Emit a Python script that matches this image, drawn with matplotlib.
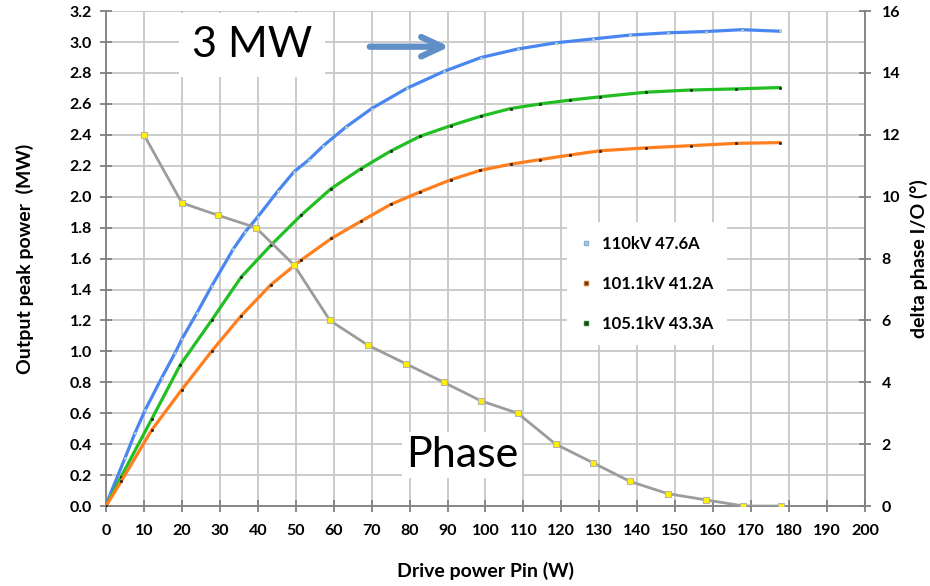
import matplotlib
matplotlib.use("Agg")
import matplotlib.pyplot as plt
from matplotlib.lines import Line2D

plt.rcParams['font.family'] = ['Lato', 'DejaVu Sans']

# 110kV 47.6A
blue_x = [0, 1, 5, 7.6, 10.3, 14.7, 18.2, 20, 24, 27.8, 33.5, 36.6, 40, 45.4, 49.5, 53.5, 57.3, 63.2,
          70, 79.2, 89, 98.8, 108.5, 118.5, 128.3, 138, 148.2, 158, 167.5, 177.6]
blue_y = [0, 0.07, 0.31, 0.47, 0.62, 0.83, 0.99, 1.08, 1.25, 1.42, 1.66, 1.77, 1.87, 2.04, 2.16, 2.24, 2.33, 2.45,
          2.57, 2.70, 2.81, 2.90, 2.955, 2.995, 3.02, 3.045, 3.06, 3.068, 3.08, 3.07]

# 105.1kV 43.3A
green_x = [0, 4, 12, 19.5, 27.8, 35.6, 43.6, 51.4, 59.2, 67.1, 75, 82.7, 90.9, 98.7, 106.6, 114.4,
           122.4, 130.2, 142.4, 154.1, 166, 177.6]
green_y = [0, 0.19, 0.56, 0.91, 1.20, 1.48, 1.69, 1.88, 2.05, 2.18, 2.295, 2.39, 2.46, 2.52, 2.57, 2.60,
           2.625, 2.646, 2.676, 2.69, 2.697, 2.706]

# 101.1kV 41.2A
orange_x = [0, 4, 12, 19.9, 27.8, 35.6, 43.4, 51.4, 59.4, 67.1, 75, 82.7, 90.9, 98.6, 106.6, 114.4,
            122.4, 130.2, 142.4, 154.1, 166, 177.6]
orange_y = [0, 0.16, 0.49, 0.75, 1.00, 1.23, 1.43, 1.59, 1.73, 1.84, 1.95, 2.03, 2.11, 2.17, 2.21, 2.24,
            2.27, 2.297, 2.316, 2.33, 2.345, 2.35]

# phase (deg), right axis
phase_x = [10, 20, 29.5, 39.5, 49.5, 59, 69, 79, 89, 98.8, 108.5, 118.5, 128.3, 138, 148, 158, 168, 178]
phase_y = [12, 9.8, 9.4, 9.0, 7.8, 6.0, 5.2, 4.6, 4.0, 3.4, 3.0, 2.0, 1.4, 0.8, 0.4, 0.2, 0, 0]

fig = plt.figure(figsize=(9.3, 5.86), dpi=100)
ax = fig.add_axes([0.114, 0.1365, 0.816, 0.8445])
ax2 = ax.twinx()

spine_col = '#808080'
grid_col = '#c8c8c8'

ax.plot(blue_x, blue_y, color='#4a86f2', lw=2.3, marker='s', ms=1.8,
        mfc='#e8f08a', mec='#8fb8e8', mew=0.5, zorder=3)
ax.plot(green_x, green_y, color='#22bf22', lw=2.3, marker='s', ms=1.6,
        mfc='#1a1a1a', mec='#1a1a1a', mew=0.4, zorder=3)
ax.plot(orange_x, orange_y, color='#ff7f1e', lw=2.3, marker='s', ms=1.6,
        mfc='#1a1a1a', mec='#1a1a1a', mew=0.4, zorder=3)

ax2.plot(phase_x, phase_y, color='#9c9c9c', lw=2.0, marker='s', ms=5,
         mfc='#fff200', mec='#b8b8a0', mew=0.8, zorder=3)

ax.set_xlim(0, 200)
ax.set_ylim(0, 3.2)
ax2.set_ylim(0, 16)

ax.set_xticks(range(0, 201, 10))
ax.set_yticks([i * 0.2 for i in range(17)])
ax.set_yticklabels(['%.1f' % (i * 0.2) for i in range(17)])
ax2.set_yticks(range(0, 17, 2))

ax.grid(True, color=grid_col, lw=1.3)
ax.set_axisbelow(True)

for a in (ax, ax2):
    a.spines['top'].set_visible(False)
    for s in ('left', 'right', 'bottom'):
        a.spines[s].set_color(spine_col)
        a.spines[s].set_linewidth(1.3)
ax.spines['right'].set_visible(False)
ax2.spines['left'].set_visible(False)
ax2.spines['bottom'].set_visible(False)

ax.tick_params(axis='x', direction='inout', length=8, width=1.3, color=spine_col,
               labelsize=11.5, pad=9)
ax.tick_params(axis='y', direction='inout', length=8, width=1.3, color=spine_col,
               labelsize=11.5, pad=6)
ax2.tick_params(axis='y', direction='inout', length=8, width=1.3, color=spine_col,
                labelsize=11.5, pad=8)
for lab in ax.get_xticklabels() + ax.get_yticklabels() + ax2.get_yticklabels():
    lab.set_fontweight('bold')

ax.set_xlabel('Drive power Pin (W)', fontsize=14, fontweight='bold', labelpad=17)
ax.set_ylabel('Output peak power  (MW)', fontsize=14, fontweight='bold', labelpad=26)
ax2.set_ylabel('delta phase I/O (°)', fontsize=14, fontweight='bold', labelpad=7)

# text boxes
ax2.text(38.5, 2.98, '3 MW', transform=ax.transData, fontsize=31, ha='center', va='center',
         bbox=dict(boxstyle='square,pad=0.3', fc='white', ec='none'), zorder=5)
ax2.text(93.8, 0.33, 'Phase', transform=ax.transData, fontsize=31, ha='center', va='center',
         bbox=dict(boxstyle='square,pad=0.1', fc='white', ec='none'), zorder=5)

ax2.annotate('', xy=(90.5, 2.97), xytext=(69.5, 2.97),
             xycoords=ax.transData, textcoords=ax.transData,
             arrowprops=dict(arrowstyle='->,head_length=1.5,head_width=0.7',
                             color='#5f8fc6', lw=4.5, shrinkA=0, shrinkB=0), zorder=6)

handles = [
    Line2D([], [], ls='none', marker='s', ms=3.5, mfc='#a8cbe8', mec='#8fb0d0'),
    Line2D([], [], ls='none', marker='s', ms=3.5, mfc='#4a2e14', mec='#c07030'),
    Line2D([], [], ls='none', marker='s', ms=3.5, mfc='#143814', mec='#2a7a2a'),
]
labels = ['110kV 47.6A', '101.1kV 41.2A', '105.1kV 43.3A']
leg = ax2.legend(handles, labels, loc='upper left', bbox_to_anchor=(0.597, 0.59),
                 frameon=True, facecolor='white', edgecolor='none', framealpha=1,
                 fancybox=False, handlelength=0.6, handletextpad=0.7, labelspacing=1.45,
                 borderpad=0.8, prop={'weight': 'bold', 'size': 12})
leg.set_zorder(7)

fig.savefig('out.png', dpi=100)
